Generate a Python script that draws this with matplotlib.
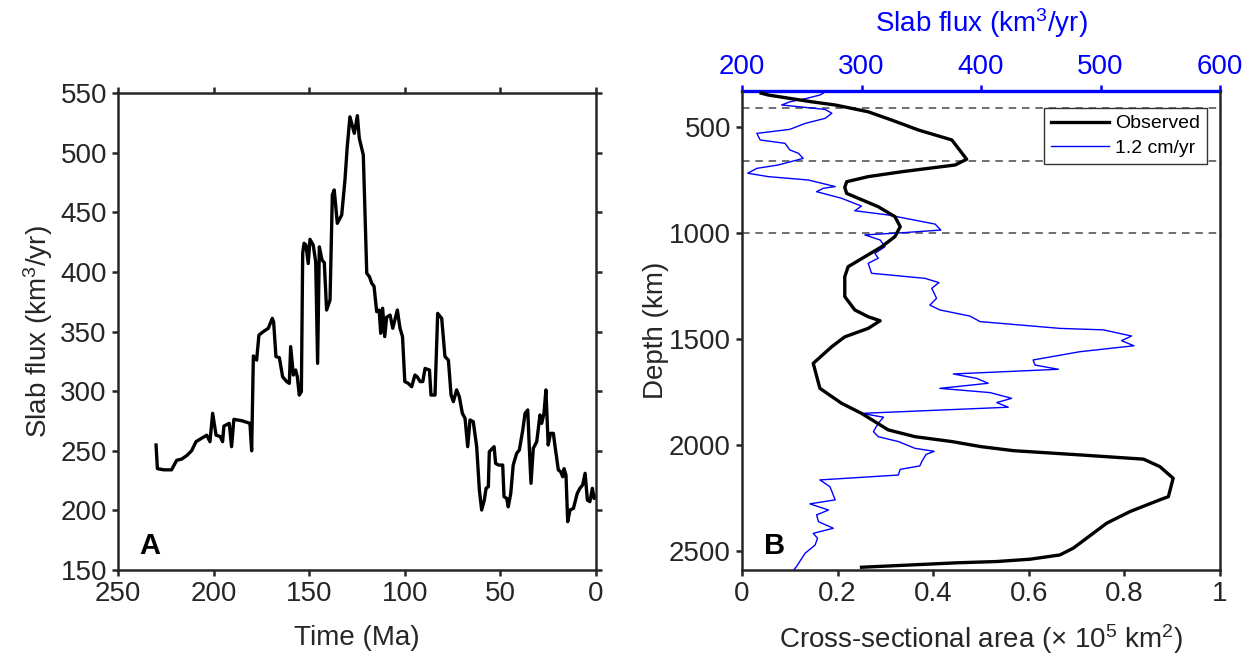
import matplotlib
matplotlib.use("Agg")
import matplotlib.pyplot as plt

plt.rcParams['font.family'] = ['Liberation Sans', 'DejaVu Sans']
plt.rcParams['mathtext.default'] = 'regular'

# ---------------- Panel A data ----------------
time_ma = [230.1, 229.4, 226, 222, 219.3, 216.7, 214, 211.5, 209.2, 207.2, 203.6, 201.9, 200.5,
           198.7, 196.6, 195.3, 194.6, 191.8, 190.6, 189.4, 185.3, 181, 180.1, 179.2, 177.5,
           176.3, 174, 171.4, 169.3, 168.6, 167.4, 165.6, 163.9, 161.8, 160.4, 159.7, 158.3,
           157.1, 156.2, 155.2, 154.1, 153.4, 152.7, 151.7, 150.5, 149.6, 147.9, 146.6, 145.6,
           144.7, 143.3, 142.1, 140.9, 139.1, 137.9, 136.9, 135.3, 133, 131.3, 130.1, 128.7,
           126.4, 124.8, 123.8, 121.7, 119.9, 118.5, 117.3, 116.1, 114.7, 113.4, 112.6, 111.6,
           110.5, 109.5, 107.7, 106.3, 103.9, 102.5, 101.2, 100, 98.2, 96.4, 94.7, 93.5, 92,
           90.6, 89.4, 87.1, 86.3, 84.2, 82.8, 80.7, 79, 77.2, 75.8, 74.6, 72.9, 71.5, 69.9,
           68.5, 67.1, 65.9, 64.2, 62.4, 61, 59.8, 58.4, 57.5, 56.3, 55.8, 53.3, 52.5, 51,
           48.8, 48.1, 46.7, 45.9, 44.6, 43.3, 41.5, 40.1, 38.3, 37.1, 35.7, 34.9, 34, 32.8,
           31, 29.3, 28.4, 27.2, 26.2, 25, 23.8, 22.3, 21.4, 19.7, 18.5, 17.4, 16.7, 15.7,
           14.8, 13.6, 11.8, 9.8, 8.4, 7, 5.7, 4.5, 3.2, 1.9, 1, 0.3]
slab_flux = [254.8, 235, 234, 234, 242, 243, 246, 250, 257.6, 259.6, 263, 257.6, 281.4,
             263, 262, 257.6, 270.7, 273, 253.4, 276.3, 275.2, 273, 250, 329.5, 326,
             347, 349.9, 352.7, 361, 358, 329, 328, 312, 308, 306.5, 337.3, 313.5,
             317.7, 312, 296.7, 299.5, 415.6, 424, 422.5, 407, 427.3, 422.5, 408.5, 323.3,
             421, 410, 407.7, 368, 376.4, 464.5, 468.7, 440.7, 447.7, 477, 505, 530,
             516.2, 531, 512, 498, 398.8, 396, 390.4, 388, 366.6, 368, 348.5, 369.5,
             345.7, 362, 363.8, 352.7, 368, 352.7, 345.7, 308, 306.5, 303.7, 313.5, 312, 308,
             308, 319, 317.7, 296.7, 296.7, 365.2, 361, 329, 326, 296.7, 291.2, 301, 295.4, 281.4,
             277.2, 253.4, 275.8, 274.4, 253.4, 217.1, 200.3, 208.7, 218.5, 219.9, 249.2, 253.4, 239.4, 238,
             238, 211.5, 210, 203, 214, 238, 247.8, 250.6, 267.4, 281.4, 284.2, 253.4, 222.7, 252,
             257.6, 280, 273, 281.4, 301, 254.8, 264.6, 264.6, 253.4, 233.9, 232.5, 228.2, 235, 229.6,
             190.5, 200.3, 201.7, 214.3, 218.5, 221.3, 231.1, 208.7, 207.3, 218.5, 210, 212]

# ---------------- Panel B data ----------------
obs_depth = [340, 349, 381, 396, 428, 467, 514, 561, 652, 679, 711, 734, 758, 785, 813, 836,
             876, 923, 970, 1017, 1065, 1112, 1159, 1206, 1300, 1363, 1395, 1414, 1450, 1490,
             1536, 1615, 1733, 1803, 1851, 1929, 1961, 1984, 2008, 2027, 2047, 2067, 2102,
             2157, 2244, 2259, 2314, 2369, 2440, 2487, 2519, 2539, 2550, 2556, 2577]
obs_area = [0.04, 0.055, 0.146, 0.195, 0.264, 0.313, 0.369, 0.439, 0.470, 0.446, 0.334, 0.264,
            0.219, 0.215, 0.219, 0.243, 0.285, 0.320, 0.331, 0.320, 0.292, 0.257, 0.222, 0.215,
            0.215, 0.236, 0.264, 0.289, 0.264, 0.215, 0.188, 0.149, 0.163, 0.208, 0.250, 0.306,
            0.362, 0.439, 0.500, 0.568, 0.707, 0.840, 0.874, 0.902, 0.892, 0.874, 0.812, 0.763,
            0.721, 0.693, 0.665, 0.603, 0.533, 0.45, 0.25]

mod_depth = [340, 349, 365, 381, 396, 417, 435, 459, 483, 511, 530, 561, 577, 608, 624, 648,
             679, 695, 718, 734, 750, 781, 789, 805, 836, 873, 895, 915, 958, 986, 999, 1009,
             1033, 1065, 1096, 1119, 1143, 1190, 1214, 1234, 1261, 1308, 1340, 1363, 1392,
             1418, 1450, 1457, 1486, 1508, 1532, 1560, 1599, 1623, 1643, 1665, 1686, 1709,
             1733, 1753, 1780, 1800, 1822, 1851, 1869, 1898, 1937, 1961, 1984, 2016, 2030,
             2045, 2079, 2099, 2115, 2142, 2165, 2197, 2259, 2278, 2307, 2330, 2362, 2393,
             2417, 2440, 2472, 2511, 2535, 2574, 2590]
mod_area = [0.17, 0.163, 0.135, 0.100, 0.083, 0.174, 0.188, 0.174, 0.132, 0.100, 0.031, 0.038,
            0.090, 0.100, 0.118, 0.128, 0.076, 0.031, 0.012, 0.055, 0.139, 0.195, 0.170, 0.156,
            0.208, 0.250, 0.236, 0.306, 0.404, 0.416, 0.334, 0.257, 0.289, 0.299, 0.278, 0.285,
            0.264, 0.271, 0.383, 0.412, 0.397, 0.407, 0.393, 0.414, 0.477, 0.498, 0.665, 0.756,
            0.815, 0.794, 0.820, 0.707, 0.609, 0.613, 0.662, 0.442, 0.491, 0.515, 0.414, 0.519,
            0.564, 0.533, 0.557, 0.250, 0.296, 0.285, 0.275, 0.285, 0.327, 0.362, 0.402, 0.385,
            0.376, 0.372, 0.331, 0.327, 0.163, 0.184, 0.195, 0.142, 0.181, 0.156, 0.160, 0.191,
            0.149, 0.158, 0.153, 0.132, 0.125, 0.114, 0.108]

discontinuities = [410, 660, 1000]
a_xticks = [250, 200, 150, 100, 50, 0]
a_yticks = [150, 200, 250, 300, 350, 400, 450, 500, 550]
b_xticks = [0, 0.2, 0.4, 0.6, 0.8, 1]
b_xticklabels = ['0', '0.2', '0.4', '0.6', '0.8', '1']
b_yticks = [500, 1000, 1500, 2000, 2500]
flux_ticks = [200, 300, 400, 500, 600]

W, H = 1255, 663
fig = plt.figure(figsize=(W / 100, H / 100), dpi=100)

spine_c = '#262626'
FS = 20

def style(ax):
    for s in ax.spines.values():
        s.set_linewidth(1.8)
        s.set_color(spine_c)
    ax.tick_params(direction='out', length=4, width=1.8, color=spine_c,
                   labelsize=FS, labelcolor='#262626', pad=4)

# ---- Panel A ----
axA = fig.add_axes([118 / W, 1 - 570 / H, 478 / W, 477 / H])
axA.plot(time_ma, slab_flux, color='black', lw=2.4)
axA.set_xlim(250, 0)
axA.set_ylim(150, 550)
axA.set_xticks(a_xticks)
axA.set_yticks(a_yticks)
style(axA)
axA.tick_params(top=True, right=True)
axA.set_xlabel('Time (Ma)', fontsize=FS, color='#262626', labelpad=13)
axA.set_ylabel('Slab flux (km$^3$/yr)', fontsize=FS, color='#262626', labelpad=4)
axA.text(0.045, 0.02, 'A', transform=axA.transAxes, fontsize=21, fontweight='bold',
         ha='left', va='bottom')

# ---- Panel B ----
axB = fig.add_axes([742 / W, 1 - 570 / H, 478 / W, 479 / H])
for d in discontinuities:
    axB.axhline(d, color='#555555', lw=1.2, ls=(0, (4.5, 3.5)), zorder=1)
axB.plot(obs_area, obs_depth, color='black', lw=2.4, label='Observed', zorder=3)
axB.plot(mod_area, mod_depth, color='#0000ff', lw=1.0, label='1.2 cm/yr', zorder=2)
axB.set_xlim(0, 1)
axB.set_ylim(2590, 330)
axB.set_xticks(b_xticks)
axB.set_xticklabels(b_xticklabels)
axB.set_yticks(b_yticks)
style(axB)
axB.spines['top'].set_visible(False)
axB.set_xlabel('Cross-sectional area (× 10$^5$ km$^2$)', fontsize=FS, color='#262626', labelpad=11)
axB.set_ylabel('Depth (km)', fontsize=FS, color='#262626', labelpad=0)
axB.text(0.045, 0.02, 'B', transform=axB.transAxes, fontsize=21, fontweight='bold',
         ha='left', va='bottom')
leg = axB.legend(loc='upper right', bbox_to_anchor=((1207 - 742) / 478, (570 - 108) / 479),
                 fontsize=14, frameon=True, fancybox=False,
                 framealpha=1, edgecolor='#333333', handlelength=3.0, borderaxespad=0,
                 borderpad=0.35, labelspacing=0.35, handletextpad=0.3)
leg.get_frame().set_linewidth(1.0)
leg.set_zorder(5)

sec = axB.secondary_xaxis('top', functions=(lambda a: 200 + 400 * a, lambda f: (f - 200) / 400))
sec.set_xticks(flux_ticks)
sec.spines['top'].set_color('#0000ff')
sec.spines['top'].set_linewidth(2.4)
sec.tick_params(direction='out', length=4, width=1.8, color='#0000ff',
                labelsize=FS, labelcolor='#0000ff', pad=4)
sec.set_xlabel('Slab flux (km$^3$/yr)', fontsize=FS, color='#0000ff', labelpad=16)

fig.savefig('out.png', dpi=100, facecolor='white')
